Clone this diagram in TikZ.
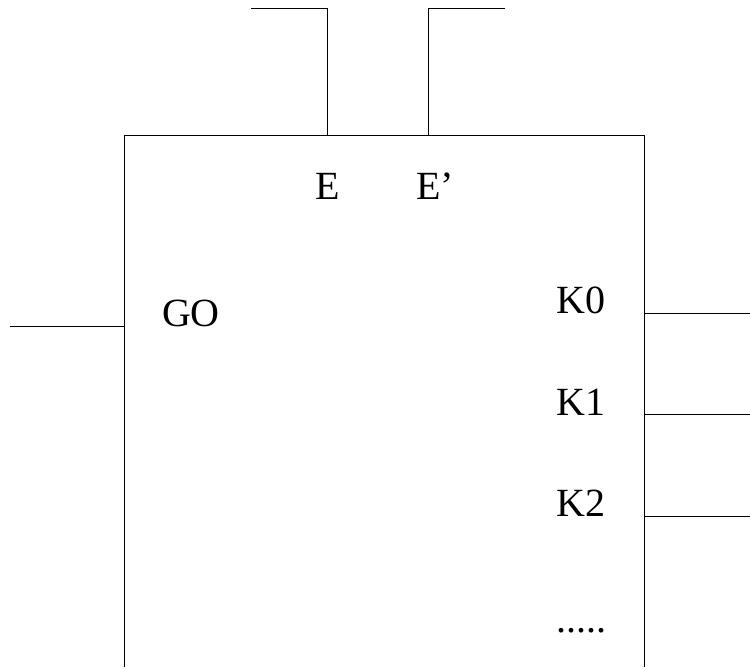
\documentclass[tikz,border=0pt]{standalone}
\usepackage{fontspec}
\setmainfont{Liberation Serif}
\tikzset{
  wire/.style={draw=black, line width=1pt, line cap=butt, line join=miter},
  pinlabel/.style={anchor=base west, inner sep=0pt, outer sep=0pt, text=black, font=\fontsize{40}{48}\selectfont},
}
\begin{document}
\begin{tikzpicture}[x=1pt,y=-1pt]
\useasboundingbox (0,0) rectangle (750,667);
% box corners
\coordinate (bl) at (124,667);
\coordinate (tl) at (124,135.5);
\coordinate (tr) at (644,135.5);
\coordinate (br) at (644,667);
\draw[wire] (bl) -- (tl) -- (tr) -- (br);
% top wires
\coordinate (eBase) at (327,135.5);
\coordinate (eTop) at (327,8.5);
\coordinate (eEnd) at (251,8.5);
\coordinate (fBase) at (428.5,135.5);
\coordinate (fTop) at (428.5,8.5);
\coordinate (fEnd) at (505,8.5);
\draw[wire] (eBase) -- (eTop) -- (eEnd);
\draw[wire] (fBase) -- (fTop) -- (fEnd);
% side wires
\coordinate (goEnd) at (10,326);
\coordinate (goPin) at (124,326);
\draw[wire] (goEnd) -- (goPin);
\coordinate (k0Pin) at (644,313);
\coordinate (k0End) at (750,313);
\coordinate (k1Pin) at (644,414.5);
\coordinate (k1End) at (750,414.5);
\coordinate (k2Pin) at (644,516);
\coordinate (k2End) at (750,516);
\draw[wire] (k0Pin) -- (k0End);
\draw[wire] (k1Pin) -- (k1End);
\draw[wire] (k2Pin) -- (k2End);
% labels
\node[pinlabel] (lblE) at (315,199) {E};
\node[pinlabel] (lblF) at (416,199) {E’};
\node[pinlabel] (lblGO) at (162,326) {GO};
\node[pinlabel] (lblK0) at (556.5,313) {K0};
\node[pinlabel] (lblK1) at (556.5,415) {K1};
\node[pinlabel] (lblK2) at (556.5,516) {K2};
\node[pinlabel] (lblDots) at (556.5,632) {.....};
\end{tikzpicture}
\end{document}
